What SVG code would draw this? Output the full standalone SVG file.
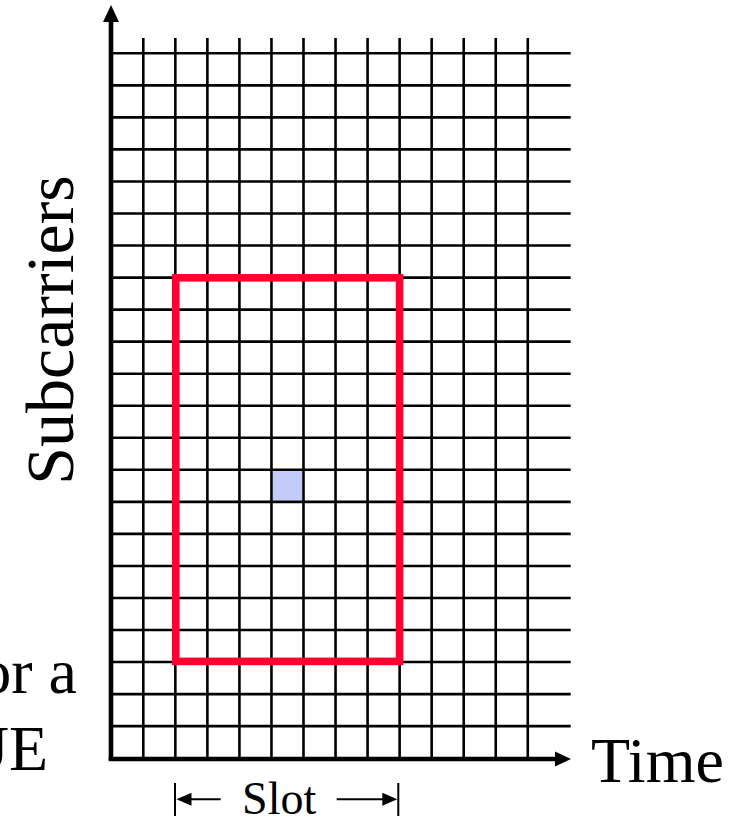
<svg xmlns="http://www.w3.org/2000/svg" width="735" height="819" viewBox="0 0 735 819">
<style>
.grid line{stroke:#000;stroke-width:2.6}
.axis{stroke:#000;stroke-width:4.6;fill:none}
.thin{stroke:#000;stroke-width:2;fill:none}
.lbl{font-family:'Liberation Serif','DejaVu Serif','Times New Roman',serif;fill:#000}
</style>
<rect width="735" height="819" fill="#fff"/>
<g id="cell"><rect x="272.8" y="471.1" width="29.4" height="29.4" fill="#C2CBFA"/></g>
<g id="grid" class="grid">
<line x1="112" y1="53.3" x2="570.7" y2="53.3"/>
<line x1="112" y1="85.34" x2="570.7" y2="85.34"/>
<line x1="112" y1="117.38" x2="570.7" y2="117.38"/>
<line x1="112" y1="149.42" x2="570.7" y2="149.42"/>
<line x1="112" y1="181.46" x2="570.7" y2="181.46"/>
<line x1="112" y1="213.5" x2="570.7" y2="213.5"/>
<line x1="112" y1="245.54" x2="570.7" y2="245.54"/>
<line x1="112" y1="277.58" x2="570.7" y2="277.58"/>
<line x1="112" y1="309.62" x2="570.7" y2="309.62"/>
<line x1="112" y1="341.66" x2="570.7" y2="341.66"/>
<line x1="112" y1="373.7" x2="570.7" y2="373.7"/>
<line x1="112" y1="405.74" x2="570.7" y2="405.74"/>
<line x1="112" y1="437.78" x2="570.7" y2="437.78"/>
<line x1="112" y1="469.82" x2="570.7" y2="469.82"/>
<line x1="112" y1="501.86" x2="570.7" y2="501.86"/>
<line x1="112" y1="533.9" x2="570.7" y2="533.9"/>
<line x1="112" y1="565.94" x2="570.7" y2="565.94"/>
<line x1="112" y1="597.98" x2="570.7" y2="597.98"/>
<line x1="112" y1="630.02" x2="570.7" y2="630.02"/>
<line x1="112" y1="662.06" x2="570.7" y2="662.06"/>
<line x1="112" y1="694.1" x2="570.7" y2="694.1"/>
<line x1="112" y1="726.14" x2="570.7" y2="726.14"/>
<line x1="143.3" y1="38" x2="143.3" y2="758"/>
<line x1="175.34" y1="38" x2="175.34" y2="758"/>
<line x1="207.38" y1="38" x2="207.38" y2="758"/>
<line x1="239.42" y1="38" x2="239.42" y2="758"/>
<line x1="271.46" y1="38" x2="271.46" y2="758"/>
<line x1="303.5" y1="38" x2="303.5" y2="758"/>
<line x1="335.54" y1="38" x2="335.54" y2="758"/>
<line x1="367.58" y1="38" x2="367.58" y2="758"/>
<line x1="399.62" y1="38" x2="399.62" y2="758"/>
<line x1="431.66" y1="38" x2="431.66" y2="758"/>
<line x1="463.7" y1="38" x2="463.7" y2="758"/>
<line x1="495.74" y1="38" x2="495.74" y2="758"/>
<line x1="527.78" y1="38" x2="527.78" y2="758"/>
</g>
<g id="block"><rect x="175.8" y="277.8" width="223.8" height="383.6" fill="none" stroke="#FF0030" stroke-width="7.6"/></g>
<g id="axes">
<line class="axis" x1="111" y1="760.6" x2="111" y2="20"/>
<polygon points="111,5 103,22 119,22" fill="#000"/>
<line class="axis" x1="108.7" y1="759" x2="556" y2="759"/>
<polygon points="571,759 555,751.5 555,766.5" fill="#000"/>
</g>
<g id="slot">
<line class="thin" x1="175" y1="783" x2="175" y2="816"/>
<line class="thin" x1="398.3" y1="783" x2="398.3" y2="816"/>
<line class="thin" x1="188" y1="799.3" x2="220.7" y2="799.3"/>
<polygon points="176.5,799.3 191.5,792.8 191.5,805.8" fill="#000"/>
<line class="thin" x1="336.7" y1="799.3" x2="385" y2="799.3"/>
<polygon points="397.3,799.3 382.3,792.8 382.3,805.8" fill="#000"/>
<text class="lbl" x="279.2" y="814" font-size="46" text-anchor="middle" font-family="'Liberation Serif','DejaVu Serif',serif">Slot</text>
</g>
<g id="labels">
<text class="lbl" x="591" y="782" font-size="64" font-family="'Liberation Serif','DejaVu Serif',serif">Time</text>
<text class="lbl" transform="translate(73,330) rotate(-90)" x="0" y="0" font-size="68" text-anchor="middle" font-family="'Liberation Serif','DejaVu Serif',serif">Subcarriers</text>
<text class="lbl" x="77" y="693" font-size="64" text-anchor="end" font-family="'Liberation Serif','DejaVu Serif',serif">or a</text>
<text class="lbl" x="48" y="770" font-size="64" text-anchor="end" font-family="'Liberation Serif','DejaVu Serif',serif">UE</text>
</g>
</svg>
